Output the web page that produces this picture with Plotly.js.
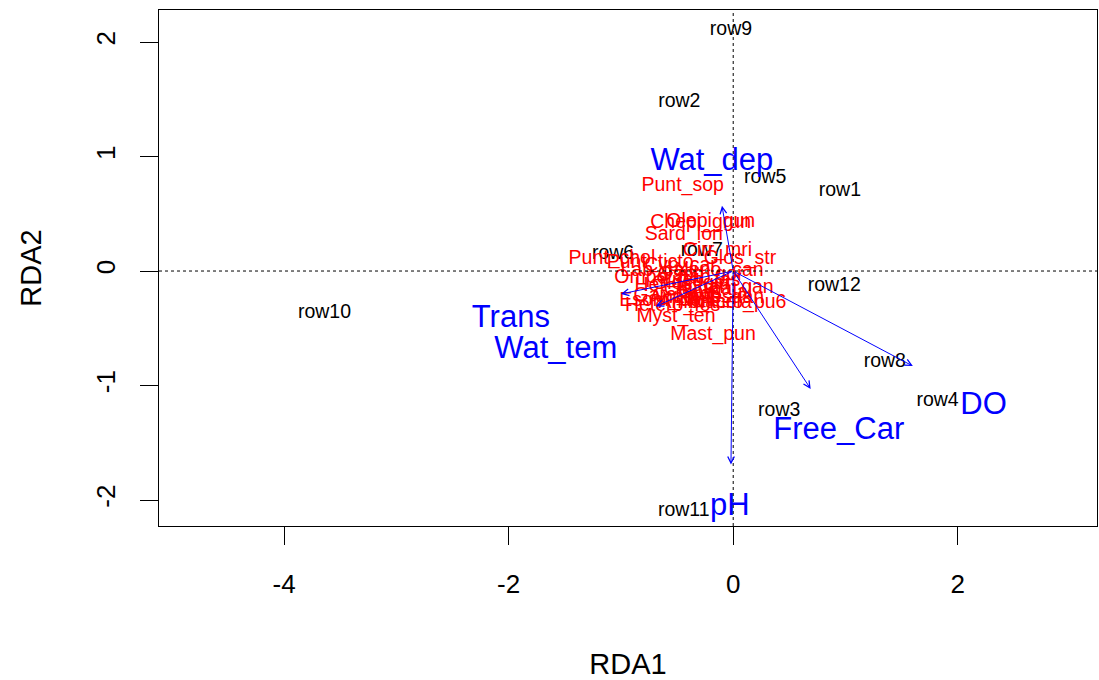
<!DOCTYPE html>
<html>
<head>
<meta charset="utf-8">
<script src="https://cdn.plot.ly/plotly-3.0.1.min.js"></script>
<style>html,body{margin:0;padding:0;background:#fff;}#chart{width:1099px;height:680px;}</style>
</head>
<body>
<div id="chart"></div>
<script>
// Site scores (black labels)
const siteNames = ["row1","row2","row3","row4","row5","row6","row7","row8","row9","row10","row11","row12"];
const siteX = [0.95, -0.48, 0.41, 1.82, 0.285, -1.07, -0.28, 1.35, -0.02, -3.64, -0.44, 0.90];
const siteY = [0.70, 1.476, -1.22, -1.14, 0.81, 0.15, 0.175, -0.80, 2.10, -0.37, -2.10, -0.13];

// Species scores (red labels)
const speciesNames = ["Punt_sop","Chepi_grun","Olepi_gun","Sard_lon","Cirr_mri","Punt_chol","Punt_ticto","Glos_str",
  "Lab_cal","Cyp_car","Osph_gor","Het_fos","Clar_bat","Anab_tes","Chan_gan","Gara_gor","Amb_mola","Esom_dan",
  "Rasb_dan","Hetero_fos","Macro_pu6","Trich_fas","Colis_lal","Glos_giu","Ompo_pab","Xeno_can","Myst_ten","Mast_pun"];
const speciesX = [-0.45, -0.29, -0.20, -0.44, -0.14, -1.08, -0.74, 0.06,
  -0.70, -0.47, -0.29, -0.58, -0.29, -0.38, -0.04, -0.52, -0.25, -0.60,
  -0.12, -0.54, 0.04, -0.29, -0.16, -0.38, -0.63, -0.12, -0.51, -0.18];
const speciesY = [0.74, 0.42, 0.43, 0.31, 0.175, 0.105, 0.07, 0.105,
  0.0, 0.04, -0.04, -0.13, -0.17, -0.24, -0.15, -0.22, -0.28, -0.26,
  -0.24, -0.31, -0.28, -0.09, -0.19, -0.11, -0.06, 0.0, -0.40, -0.56];

// Environmental vectors (blue arrows) and their label positions
const envNames = ["Wat_dep","Trans","Wat_tem","DO","Free_Car","pH"];
const envX = [-0.10, -1.00, -0.69, 1.60, 0.69, -0.02];
const envY = [0.57, -0.20, -0.31, -0.83, -1.03, -1.69];
const envLabX = [-0.19, -1.98, -1.58, 2.23, 0.94, -0.03];
const envLabY = [0.95, -0.42, -0.69, -1.18, -1.40, -2.06];

const xTicks = [-4, -2, 0, 2];
const yTicks = [-2, -1, 0, 1, 2];

const FONT = '"Liberation Sans", Arial, sans-serif';
const BLUE = '#0000FF';

const traces = [
  {x: siteX, y: siteY, text: siteNames, mode: 'text', type: 'scatter',
   textposition: 'middle center', textfont: {family: FONT, size: 19.5, color: '#000'}, hoverinfo: 'text'},
  {x: speciesX, y: speciesY, text: speciesNames, mode: 'text', type: 'scatter',
   textposition: 'middle center', textfont: {family: FONT, size: 19.5, color: '#FF0000'}, hoverinfo: 'text'},
  {x: envLabX, y: envLabY, text: envNames, mode: 'text', type: 'scatter',
   textposition: 'middle center', textfont: {family: FONT, size: 31, color: BLUE}, hoverinfo: 'text'}
];

const annotations = envNames.map((n, i) => ({
  x: envX[i], y: envY[i], ax: 0, ay: 0, axref: 'x', ayref: 'y', xref: 'x', yref: 'y',
  text: '', showarrow: true, arrowhead: 5, arrowsize: 1.3, arrowwidth: 1, arrowcolor: BLUE, standoff: 0
}));

const layout = {
  width: 1099, height: 680,
  margin: {l: 159, r: 2, t: 10, b: 154},
  paper_bgcolor: '#fff', plot_bgcolor: '#fff',
  showlegend: false,
  font: {family: FONT, color: '#000'},
  xaxis: {
    range: [-5.114, 3.24], tickvals: xTicks, ticktext: xTicks.map(String),
    showgrid: false, zeroline: false, showline: true, mirror: true, linecolor: '#000', linewidth: 1,
    ticks: 'outside', ticklen: 18, tickcolor: '#000', tickwidth: 1,
    tickfont: {family: FONT, size: 26, color: '#000'}, ticklabelstandoff: 17,
    title: {text: 'RDA1', font: {family: FONT, size: 29, color: '#000'}, standoff: 56}
  },
  yaxis: {
    range: [-2.227, 2.28], tickvals: yTicks, ticktext: yTicks.map(String),
    showgrid: false, zeroline: false, showline: true, mirror: true, linecolor: '#000', linewidth: 1,
    ticks: 'outside', ticklen: 18, tickcolor: '#000', tickwidth: 1, tickangle: -90,
    tickfont: {family: FONT, size: 26, color: '#000'}, ticklabelstandoff: 15,
    title: {text: 'RDA2', font: {family: FONT, size: 29, color: '#000'}, standoff: 40}
  },
  shapes: [
    {type: 'line', xref: 'paper', x0: 0, x1: 1, yref: 'y', y0: 0, y1: 0, line: {color: '#000', width: 1, dash: 'dot'}},
    {type: 'line', yref: 'paper', y0: 0, y1: 1, xref: 'x', x0: 0, x1: 0, line: {color: '#000', width: 1, dash: 'dot'}}
  ],
  annotations: annotations
};

Plotly.newPlot('chart', traces, layout, {displayModeBar: false, staticPlot: true});
</script>
</body>
</html>
